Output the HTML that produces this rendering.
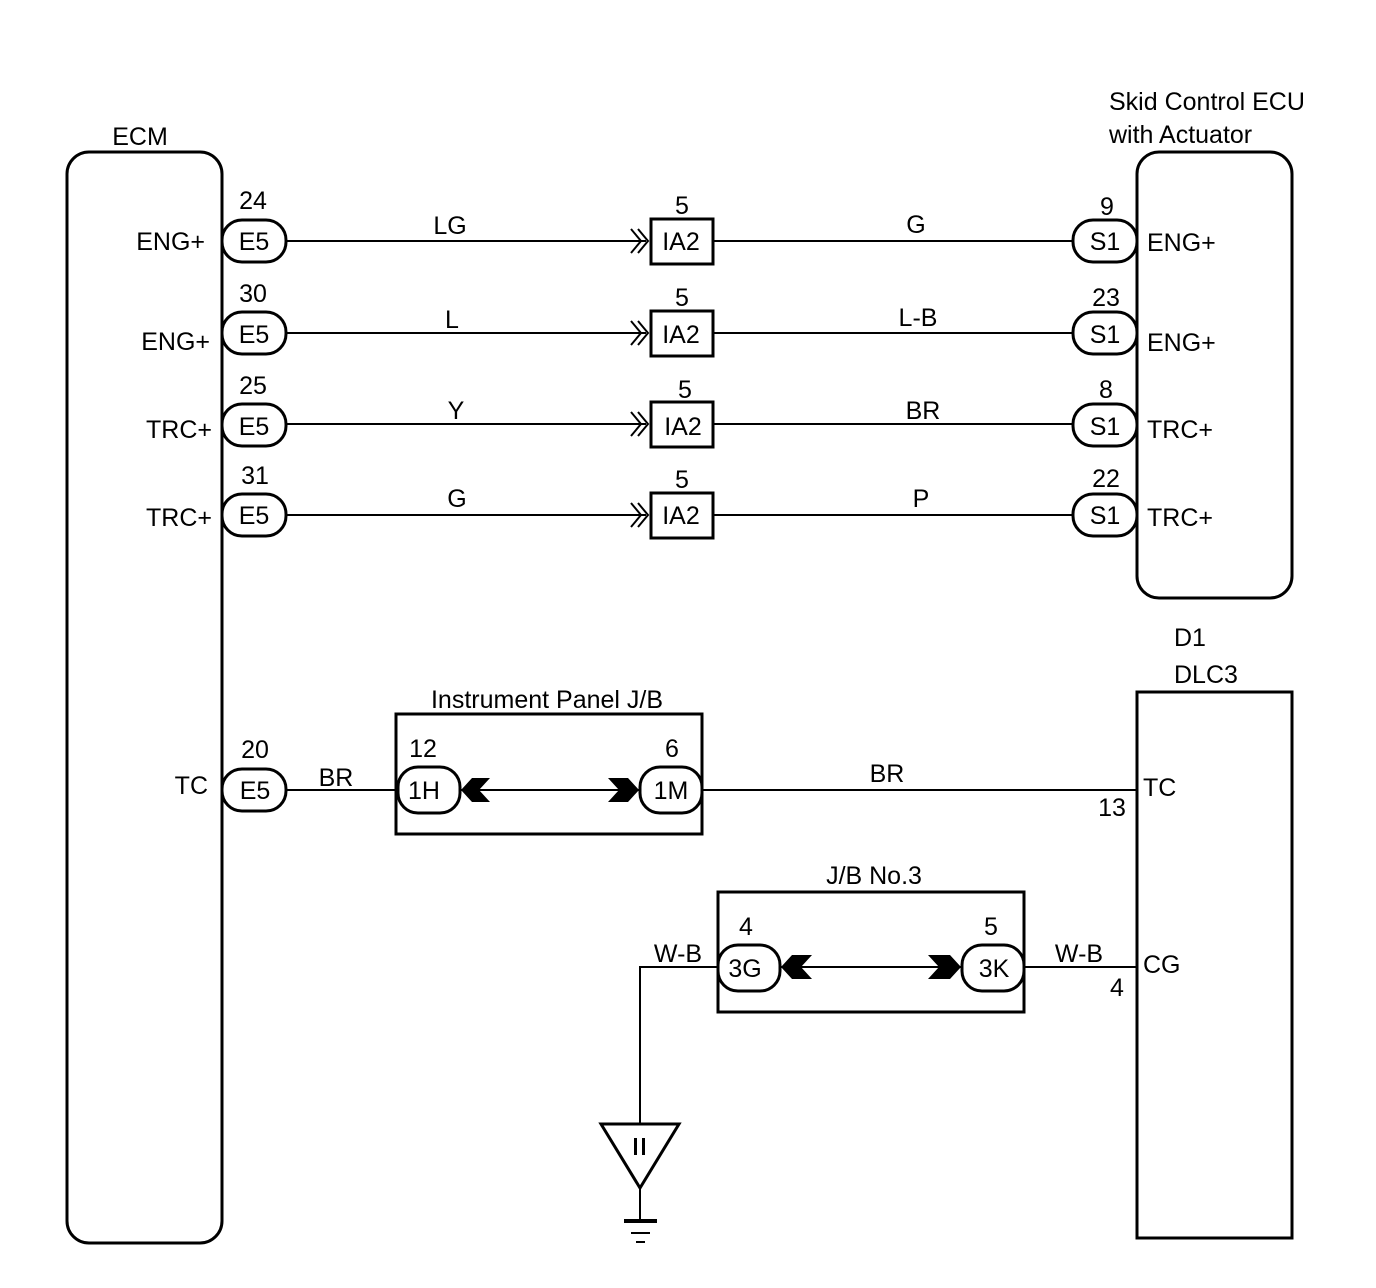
<!DOCTYPE html>
<html><head><meta charset="utf-8"><style>
body{margin:0;background:#fff}
svg{display:block}
text{font-family:"Liberation Sans",sans-serif;font-size:25px;fill:#000}
</style></head><body>
<svg width="1376" height="1288" viewBox="0 0 1376 1288" xmlns="http://www.w3.org/2000/svg">
<g fill="none" stroke="#000" stroke-width="3">
<rect x="67" y="152" width="155" height="1091" rx="22"/>
<rect x="1137" y="152" width="155" height="446" rx="22"/>
<rect x="1137" y="692" width="155" height="546"/>
<rect x="396" y="714" width="306" height="120"/>
<rect x="718" y="892" width="306" height="120"/>
</g>
<g stroke="#000" stroke-width="2" fill="none">
<line x1="286" y1="241" x2="646" y2="241"/><line x1="713" y1="241" x2="1073" y2="241"/>
<line x1="286" y1="333" x2="646" y2="333"/><line x1="713" y1="333" x2="1073" y2="333"/>
<line x1="286" y1="424" x2="646" y2="424"/><line x1="713" y1="424" x2="1073" y2="424"/>
<line x1="286" y1="515" x2="646" y2="515"/><line x1="713" y1="515" x2="1073" y2="515"/>
<line x1="286" y1="790" x2="398" y2="790"/><line x1="460" y1="790" x2="640" y2="790"/><line x1="702" y1="790" x2="1137" y2="790"/>
<line x1="780" y1="967" x2="962" y2="967"/><line x1="1024" y1="967" x2="1137" y2="967"/>
<polyline points="718,967 640,967 640,1123"/>
<line x1="640" y1="1188" x2="640" y2="1220"/>
<g id="ch"><polyline points="631,229 641,241 631,253"/><polyline points="638,229 648,241 638,253"/></g>
<use href="#ch" y="92"/><use href="#ch" y="183"/><use href="#ch" y="274"/>
</g>
<g fill="#fff" stroke="#000" stroke-width="3">
<rect x="222" y="220" width="64" height="42" rx="20"/>
<rect x="222" y="312" width="64" height="42" rx="20"/>
<rect x="222" y="404" width="64" height="42" rx="20"/>
<rect x="222" y="494" width="64" height="42" rx="20"/>
<rect x="222" y="769" width="64" height="42" rx="20"/>
<rect x="1073" y="220" width="64" height="42" rx="20"/>
<rect x="1073" y="312" width="64" height="42" rx="20"/>
<rect x="1073" y="404" width="64" height="42" rx="20"/>
<rect x="1073" y="494" width="64" height="42" rx="20"/>
<rect x="651" y="219" width="62" height="45"/>
<rect x="651" y="311" width="62" height="45"/>
<rect x="651" y="402" width="62" height="45"/>
<rect x="651" y="493" width="62" height="45"/>
<rect x="398" y="767" width="62" height="46" rx="20"/>
<rect x="640" y="767" width="62" height="46" rx="20"/>
<rect x="718" y="945" width="62" height="46" rx="20"/>
<rect x="962" y="945" width="62" height="46" rx="20"/>
<polygon points="601,1124 679,1124 640,1188"/>
</g>
<g fill="#000">
<polygon points="461,790 472,778 490,778 479,790 490,802 472,802"/>
<polygon points="639,790 628,778 608,778 619,790 608,802 628,802"/>
<polygon points="781,967 792,955 812,955 801,967 812,979 792,979"/>
<polygon points="961,967 950,955 928,955 939,967 928,979 950,979"/>
<rect x="624" y="1219" width="33" height="4"/>
<rect x="631" y="1232" width="19" height="2"/>
<rect x="636" y="1241" width="9" height="2"/>
<rect x="634" y="1138" width="3" height="17"/><rect x="642" y="1138" width="3" height="17"/>
</g>
<g text-anchor="middle">
<text x="140" y="145">ECM</text>
<text x="254" y="250">E5</text><text x="254" y="343">E5</text><text x="254" y="435">E5</text><text x="254" y="524">E5</text><text x="255" y="799">E5</text>
<text x="253" y="209">24</text><text x="253" y="302">30</text><text x="253" y="394">25</text><text x="255" y="484">31</text><text x="255" y="758">20</text>
<text x="1105" y="250">S1</text><text x="1105" y="343">S1</text><text x="1105" y="435">S1</text><text x="1105" y="524">S1</text>
<text x="1107" y="215">9</text><text x="1106" y="306">23</text><text x="1106" y="398">8</text><text x="1106" y="487">22</text>
<text x="681" y="250">IA2</text><text x="681" y="343">IA2</text><text x="683" y="435">IA2</text><text x="681" y="524">IA2</text>
<text x="682" y="214">5</text><text x="682" y="306">5</text><text x="685" y="398">5</text><text x="682" y="488">5</text>
<text x="450" y="234">LG</text><text x="452" y="328">L</text><text x="456" y="419">Y</text><text x="457" y="507">G</text>
<text x="916" y="233">G</text><text x="918" y="326">L-B</text><text x="923" y="419">BR</text><text x="921" y="507">P</text>
<text x="547" y="708">Instrument Panel J/B</text>
<text x="423" y="757">12</text><text x="672" y="757">6</text>
<text x="424" y="799">1H</text><text x="671" y="799">1M</text>
<text x="336" y="786">BR</text><text x="887" y="782">BR</text>
<text x="874" y="884">J/B No.3</text>
<text x="746" y="935">4</text><text x="991" y="935">5</text>
<text x="745" y="977">3G</text><text x="994" y="977">3K</text>
<text x="678" y="962">W-B</text><text x="1079" y="962">W-B</text>
<text x="1112" y="816">13</text><text x="1117" y="996">4</text>
</g>
<g text-anchor="end">
<text x="205" y="250">ENG+</text><text x="210" y="350">ENG+</text><text x="212" y="438">TRC+</text><text x="212" y="526">TRC+</text><text x="208" y="794">TC</text>
</g>
<text x="1147" y="251">ENG+</text><text x="1147" y="351">ENG+</text><text x="1147" y="438">TRC+</text><text x="1147" y="526">TRC+</text>
<text x="1109" y="110">Skid Control ECU</text><text x="1109" y="143">with Actuator</text>
<text x="1174" y="646">D1</text><text x="1174" y="683">DLC3</text>
<text x="1143" y="796">TC</text><text x="1143" y="973">CG</text>
</svg>
</body></html>
